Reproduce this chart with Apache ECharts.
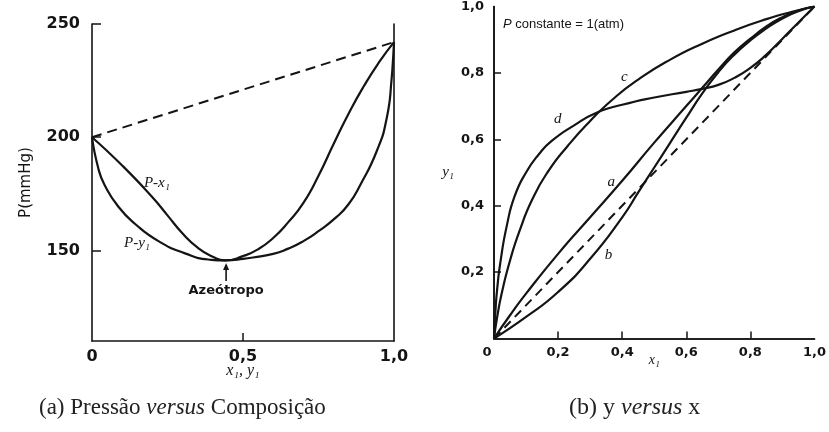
<!DOCTYPE html>
<html><head><meta charset="utf-8">
<script src="https://cdn.jsdelivr.net/npm/echarts@6/dist/echarts.min.js"></script>
<style>html,body{margin:0;padding:0;background:#fff}#c{width:829px;height:432px}</style>
</head><body><div id="c"></div><script>
// ---------- (a) Pressão versus Composição ----------
const pxX = [0, 0.1, 0.2, 0.25, 0.3, 0.35, 0.4, 0.44, 0.5, 0.55, 0.6, 0.65, 0.7, 0.75, 0.8, 0.85, 0.9, 0.95, 1];
const pxP = [200, 187.5, 173.5, 165.5, 157.5, 151.2, 147.2, 145.6, 147.5, 150.5, 155.5, 162.5, 171, 183, 197, 210.5, 222.5, 233, 242];
const pyX = [0, 0.021, 0.043, 0.087, 0.142, 0.22, 0.308, 0.385, 0.44, 0.5, 0.6, 0.65, 0.7, 0.75, 0.81, 0.85, 0.887, 0.943, 0.976, 0.992, 1];
const pyP = [200, 186.2, 178.6, 169.4, 161.8, 154.1, 148.7, 146.0, 145.6, 146.3, 148.5, 150.8, 154.1, 158.5, 164.8, 170.5, 178.6, 193.9, 208.5, 225.6, 242];
const idealX = [0, 1];
const idealP = [200, 242];
const leftYTicks = [150, 200, 250];
const leftXTicks = [0, 0.5, 1];
const leftXLabels = ['0', '0,5', '1,0'];

// ---------- (b) y versus x ----------
const aX = [0, 0.05, 0.1, 0.2, 0.3, 0.4, 0.5, 0.6, 0.65, 0.7, 0.75, 0.8, 0.85, 0.9, 0.95, 1];
const aY = [0, 0.07, 0.135, 0.255, 0.365, 0.475, 0.59, 0.7, 0.755, 0.81, 0.862, 0.903, 0.94, 0.968, 0.988, 1];
const bX = [0, 0.1, 0.2, 0.3, 0.4, 0.45, 0.5, 0.55, 0.6, 0.65, 0.7, 0.75, 0.8, 0.85, 0.9, 0.95, 1];
const bY = [0, 0.065, 0.14, 0.24, 0.365, 0.44, 0.515, 0.59, 0.665, 0.738, 0.802, 0.855, 0.898, 0.934, 0.964, 0.986, 1];
const cX = [0, 0.01, 0.025, 0.05, 0.08, 0.12, 0.17, 0.23, 0.3, 0.37, 0.45, 0.55, 0.65, 0.75, 0.85, 0.93, 1];
const cY = [0, 0.065, 0.14, 0.235, 0.325, 0.42, 0.505, 0.58, 0.655, 0.72, 0.78, 0.84, 0.888, 0.928, 0.962, 0.984, 1];
const dX = [0, 0.005, 0.01, 0.02, 0.04, 0.065, 0.1, 0.14, 0.18, 0.25, 0.32, 0.4, 0.5, 0.6, 0.65, 0.7, 0.75, 0.8, 0.85, 0.9, 0.95, 1];
const dY = [0, 0.09, 0.15, 0.23, 0.34, 0.43, 0.5, 0.555, 0.595, 0.642, 0.68, 0.704, 0.726, 0.743, 0.752, 0.764, 0.785, 0.815, 0.855, 0.903, 0.952, 1];
const diagX = [0, 1];
const diagY = [0, 1];
const rightTicks = [0.2, 0.4, 0.6, 0.8];
const rightLabelVals = [0, 0.2, 0.4, 0.6, 0.8, 1];
const rightLabels = ['0', '0,2', '0,4', '0,6', '0,8', '1,0'];

const zip = (xs, ys) => xs.map((x, i) => [x, ys[i]]);
const INK = '#141414';
const sans = 'DejaVu Sans';
const serif = 'Liberation Serif';

const chart = echarts.init(document.getElementById('c'), null, {renderer: 'canvas'});

const lineS = (name, xi, yi, data, opts = {}) => Object.assign({
  name, type: 'line', xAxisIndex: xi, yAxisIndex: yi, data,
  smooth: 0.55, showSymbol: false, symbol: 'none', silent: true,
  lineStyle: {color: INK, width: 2.2}
}, opts);

const axLine = {show: true, lineStyle: {color: INK, width: 1.6}};

chart.setOption({
  animation: false,
  backgroundColor: '#fff',
  title: [
    {left: 34, top: 391, text: '(a) Pressão {i|versus} Composição',
     textStyle: {fontFamily: serif, fontSize: 23, fontWeight: 'normal', color: '#222',
       rich: {i: {fontFamily: serif, fontSize: 23, fontStyle: 'italic', color: '#222'}}}},
    {left: 564, top: 391, text: '(b) y {i|versus} x',
     textStyle: {fontFamily: serif, fontSize: 24, fontWeight: 'normal', color: '#222',
       rich: {i: {fontFamily: serif, fontSize: 24, fontStyle: 'italic', color: '#222'}}}}
  ],
  grid: [
    {left: 92, top: 24, width: 302, height: 317},
    {left: 494, top: 5.5, width: 322, height: 333}
  ],
  xAxis: [
    {gridIndex: 0, type: 'value', min: 0, max: 1,
     axisLine: axLine,
     axisTick: {show: true, inside: true, length: 8, customValues: [0.5], lineStyle: {color: INK, width: 1.5}},
     axisLabel: {customValues: leftXTicks, formatter: v => leftXLabels[leftXTicks.indexOf(v)],
       fontFamily: sans, fontWeight: 'bold', fontSize: 16, color: INK, margin: 8},
     splitLine: {show: false},
     name: 'x₁, y₁', nameLocation: 'middle', nameGap: 22, nameMoveOverlap: false,
     nameTextStyle: {fontFamily: serif, fontStyle: 'italic', fontSize: 16, color: INK}},
    {gridIndex: 1, type: 'value', min: 0, max: 1,
     axisLine: axLine,
     axisTick: {show: true, inside: true, length: 7, customValues: rightTicks, lineStyle: {color: INK, width: 1.5}},
     axisLabel: {customValues: rightLabelVals,
       formatter: v => v === 0 ? '{z|0}' : rightLabels[rightLabelVals.indexOf(v)],
       rich: {z: {fontFamily: sans, fontWeight: 'bold', fontSize: 13, color: INK, padding: [0, 14, 0, 0]}},
       fontFamily: sans, fontWeight: 'bold', fontSize: 13, color: INK, margin: 8},
     splitLine: {show: false},
     name: 'x₁', nameLocation: 'middle', nameGap: 15, nameMoveOverlap: false,
     nameTextStyle: {fontFamily: serif, fontStyle: 'italic', fontSize: 14, color: INK}},
    {gridIndex: 1, type: 'value', min: 0, max: 1, position: 'top',
     axisLine: axLine, axisTick: {show: false}, axisLabel: {show: false}, splitLine: {show: false}}
  ],
  yAxis: [
    {gridIndex: 0, type: 'value', min: 110, max: 250,
     axisLine: axLine,
     axisTick: {show: true, inside: true, length: 9, customValues: leftYTicks, lineStyle: {color: INK, width: 1.5}},
     axisLabel: {customValues: leftYTicks, fontFamily: sans, fontWeight: 'bold', fontSize: 16, color: INK, margin: 12},
     splitLine: {show: false},
     name: 'P(mmHg)', nameLocation: 'middle', nameGap: 58, nameRotate: 90, nameMoveOverlap: false,
     nameTextStyle: {fontFamily: sans, fontSize: 15, color: INK}},
    {gridIndex: 0, type: 'value', min: 110, max: 250, position: 'right',
     axisLine: axLine, axisTick: {show: false}, axisLabel: {show: false}, splitLine: {show: false}},
    {gridIndex: 1, type: 'value', min: 0, max: 1,
     axisLine: axLine,
     axisTick: {show: true, inside: true, length: 7, customValues: rightTicks, lineStyle: {color: INK, width: 1.5}},
     axisLabel: {customValues: rightLabelVals.slice(1), formatter: v => rightLabels[rightLabelVals.indexOf(v)],
       fontFamily: sans, fontWeight: 'bold', fontSize: 13, color: INK, margin: 10},
     splitLine: {show: false},
     name: 'y₁', nameLocation: 'middle', nameGap: 40, nameRotate: 0, nameMoveOverlap: false,
     nameTextStyle: {fontFamily: serif, fontStyle: 'italic', fontSize: 15, color: INK}},
    {gridIndex: 1, type: 'value', min: 0, max: 1, position: 'right',
     axisLine: axLine, axisTick: {show: false}, axisLabel: {show: false}, splitLine: {show: false}}
  ],
  series: [
    lineS('ideal', 0, 0, zip(idealX, idealP), {smooth: false, lineStyle: {color: INK, width: 2, type: [10, 6]}}),
    lineS('P-x1', 0, 0, zip(pxX, pxP)),
    lineS('P-y1', 0, 0, zip(pyX, pyP)),
    lineS('diag', 1, 2, zip(diagX, diagY), {smooth: false, lineStyle: {color: INK, width: 2, type: [9, 6]}}),
    lineS('a', 1, 2, zip(aX, aY)),
    lineS('b', 1, 2, zip(bX, bY)),
    lineS('c', 1, 2, zip(cX, cY)),
    lineS('d', 1, 2, zip(dX, dY))
  ]
});

// annotations placed through the chart's own coordinate conversion
const L = p => chart.convertToPixel({gridIndex: 0}, p);
const R = p => chart.convertToPixel({gridIndex: 1}, p);
const txt = (pos, text, style) => ({type: 'text', x: pos[0], y: pos[1], silent: true,
  style: Object.assign({text, fill: INK, align: 'center', verticalAlign: 'middle'}, style)});
const it = {font: 'italic 15px "Liberation Serif"'};

const tip = L([0.444, 144.4]);
const tail = L([0.444, 136.5]);
const pc = R([0.028, 0.945]);
chart.setOption({
  graphic: [
    txt(L([0.215, 179.8]), 'P-x₁', it),
    txt(L([0.149, 153.2]), 'P-y₁', it),
    txt(L([0.444, 132.3]), 'Azeótropo', {font: 'bold 13px "DejaVu Sans"'}),
    {type: 'line', silent: true, shape: {x1: tail[0], y1: tail[1], x2: tip[0], y2: tip[1] + 4},
     style: {stroke: INK, lineWidth: 1.6}},
    {type: 'polygon', silent: true,
     shape: {points: [[tip[0], tip[1]], [tip[0] - 3, tip[1] + 7], [tip[0] + 3, tip[1] + 7]]},
     style: {fill: INK}},
    txt(R([0.407, 0.788]), 'c', it),
    txt(R([0.199, 0.662]), 'd', it),
    txt(R([0.366, 0.47]), 'a', it),
    txt(R([0.357, 0.25]), 'b', it),
    {type: 'text', x: pc[0], y: pc[1], silent: true,
     style: {text: '{p|P} constante = 1(atm)', fill: INK, align: 'left', verticalAlign: 'middle',
       font: '13px "Liberation Sans"',
       rich: {p: {font: 'italic 13px "Liberation Sans"', fill: INK}}}}
  ]
});
</script></body></html>
